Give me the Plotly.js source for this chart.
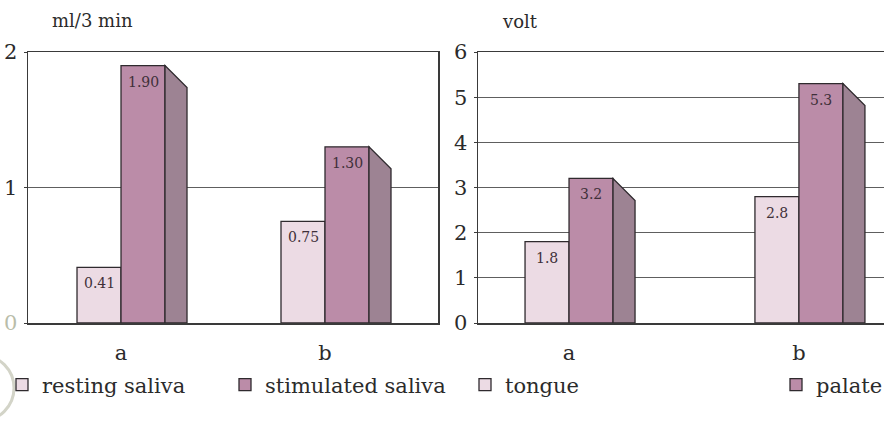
<!DOCTYPE html>
<html>
<head>
<meta charset="utf-8">
<script src="https://cdn.plot.ly/plotly-3.0.1.min.js"></script>
<style>
  html, body { margin: 0; padding: 0; background: #ffffff; }
  #chart { width: 884px; height: 428px; }
</style>
</head>
<body>
<div id="chart"></div>
<script>
// ---- data ----
const categories = ['a', 'b'];
const restingSaliva = [0.41, 0.75];
const stimulatedSaliva = [1.90, 1.30];
const tongue = [1.8, 2.8];
const palate = [3.2, 5.3];
const leftTickVals = [0, 1, 2];
const leftTickText = ['<span style="color:#b9bda9">0</span>', '1', '2'];
const rightTickVals = [0, 1, 2, 3, 4, 5, 6];
const rightTickText = ['0', '1', '2', '3', '4', '5', '6'];
const leftUnit = 'ml/3 min';
const rightUnit = 'volt';
const seriesNames = ['resting saliva', 'stimulated saliva', 'tongue', 'palate'];

// ---- style / layout config ----
const W = 884, H = 428;
const M = {l: 0, r: 0, t: 52, b: 105, autoexpand: false};
const plotH = H - M.t - M.b;
const leftDom = [28 / W, 438 / W];
const rightDom = [478 / W, 1];
const leftXRange = [-0.456, 1.554];
const rightXRange = [-0.396, 1.370];
const leftYRange = [0, 2];
const rightYRange = [0, 6];
const barPx = 44, depthPx = 22, dropPx = 22;
const FONT = 'DejaVu Serif';
const lightFill = '#ecdbe4';
const darkFill = '#bb8ca8';
const sideFill = '#9d8393';
const edge = '#2f2a2e';
const axisCol = '#3a3a3a';
const gridCol = '#5e5e5e';

function scales(dom, xr, yr) {
  const pxX = (dom[1] - dom[0]) * W / (xr[1] - xr[0]);
  const pxY = plotH / (yr[1] - yr[0]);
  return {w: barPx / pxX, dx: depthPx / pxX, dy: dropPx / pxY};
}
const sL = scales(leftDom, leftXRange, leftYRange);
const sR = scales(rightDom, rightXRange, rightYRange);
const idx = categories.map((c, i) => i);

function barPair(lightVals, darkVals, s, xa, ya, names, legends) {
  const common = {type: 'bar', x: idx, width: s.w, xaxis: xa, yaxis: ya,
                  hoverinfo: 'skip'};
  return [
    Object.assign({}, common, {y: lightVals, offset: -s.w, name: names[0], legend: legends[0],
      marker: {color: lightFill, line: {color: edge, width: 1.3}}}),
    Object.assign({}, common, {y: darkVals, offset: 0, name: names[1], legend: legends[1],
      marker: {color: darkFill, line: {color: edge, width: 1.3}}})
  ];
}

function sideShapes(darkVals, s, xa, ya) {
  return darkVals.map((v, i) => {
    const xr = idx[i] + s.w;
    return {type: 'path', xref: xa, yref: ya, layer: 'above',
      path: `M ${xr},0 L ${xr},${v} L ${xr + s.dx},${v - s.dy} L ${xr + s.dx},0 Z`,
      fillcolor: sideFill, line: {color: edge, width: 1.3}};
  });
}

function valueLabels(lightVals, darkVals, s, xa, ya, dec) {
  const out = [];
  [[lightVals, -s.w / 2], [darkVals, s.w / 2]].forEach(([vals, off]) => {
    vals.forEach((v, i) => out.push({
      x: idx[i] + off, y: v, xref: xa, yref: ya, text: v.toFixed(dec),
      showarrow: false, yanchor: 'middle', xanchor: 'center', yshift: -16,
      font: {family: FONT, size: 14, color: '#3f3039'}
    }));
  });
  return out;
}

const data = [
  ...barPair(restingSaliva, stimulatedSaliva, sL, 'x', 'y', seriesNames.slice(0, 2), ['legend', 'legend2']),
  ...barPair(tongue, palate, sR, 'x2', 'y2', seriesNames.slice(2, 4), ['legend3', 'legend4'])
];

const xBase = {tickmode: 'array', tickvals: idx, ticktext: categories, ticks: '',
  showgrid: false, zeroline: false, showline: true, linecolor: axisCol, linewidth: 1.5,
  mirror: true, ticklabelstandoff: 10, fixedrange: true,
  tickfont: {family: FONT, size: 21, color: '#2b2b2b'}};
const yBase = {tickmode: 'array', ticks: 'outside', ticklen: 3, tickcolor: axisCol,
  showgrid: true, gridcolor: gridCol, gridwidth: 1, zeroline: false, showline: true,
  linecolor: axisCol, linewidth: 1.5, ticklabelstandoff: 2, fixedrange: true,
  tickfont: {family: FONT, size: 21, color: '#2b2b2b'}};

const legY = (323 - 385) / plotH;
function leg(px) {
  return {x: px / W, y: legY, xanchor: 'left', yanchor: 'middle', bgcolor: 'rgba(0,0,0,0)',
    borderwidth: 0, orientation: 'h', font: {family: FONT, size: 21, color: '#2b2b2b'}};
}

const layout = {
  width: W, height: H, margin: M,
  paper_bgcolor: '#ffffff', plot_bgcolor: '#ffffff',
  barmode: 'overlay', showlegend: true,
  xaxis: Object.assign({}, xBase, {domain: leftDom, range: leftXRange, anchor: 'y'}),
  yaxis: Object.assign({}, yBase, {range: leftYRange, tickvals: leftTickVals, ticktext: leftTickText,
    mirror: true, anchor: 'x'}),
  xaxis2: Object.assign({}, xBase, {domain: rightDom, range: rightXRange, anchor: 'y2'}),
  yaxis2: Object.assign({}, yBase, {range: rightYRange, tickvals: rightTickVals, ticktext: rightTickText,
    mirror: false, anchor: 'x2'}),
  legend: leg(2), legend2: leg(225), legend3: leg(465), legend4: leg(776),
  shapes: [
    ...sideShapes(stimulatedSaliva, sL, 'x', 'y'),
    ...sideShapes(palate, sR, 'x2', 'y2'),
    {type: 'circle', xref: 'paper', yref: 'paper',
     x0: -52 / W, x1: 14 / W, y0: (323 - 421) / plotH, y1: (323 - 355) / plotH,
     line: {color: '#d3d4c8', width: 3}, fillcolor: 'rgba(0,0,0,0)'}
  ],
  annotations: [
    ...valueLabels(restingSaliva, stimulatedSaliva, sL, 'x', 'y', 2),
    ...valueLabels(tongue, palate, sR, 'x2', 'y2', 1),
    {text: leftUnit, xref: 'paper', yref: 'paper', x: 50 / W, y: (323 - 20) / plotH,
     xanchor: 'left', yanchor: 'middle', showarrow: false,
     font: {family: FONT, size: 18, color: '#2b2b2b'}},
    {text: rightUnit, xref: 'paper', yref: 'paper', x: 500 / W, y: (323 - 21) / plotH,
     xanchor: 'left', yanchor: 'middle', showarrow: false,
     font: {family: FONT, size: 18, color: '#2b2b2b'}}
  ]
};

Plotly.newPlot('chart', data, layout, {displayModeBar: false, staticPlot: true});
</script>
</body>
</html>
